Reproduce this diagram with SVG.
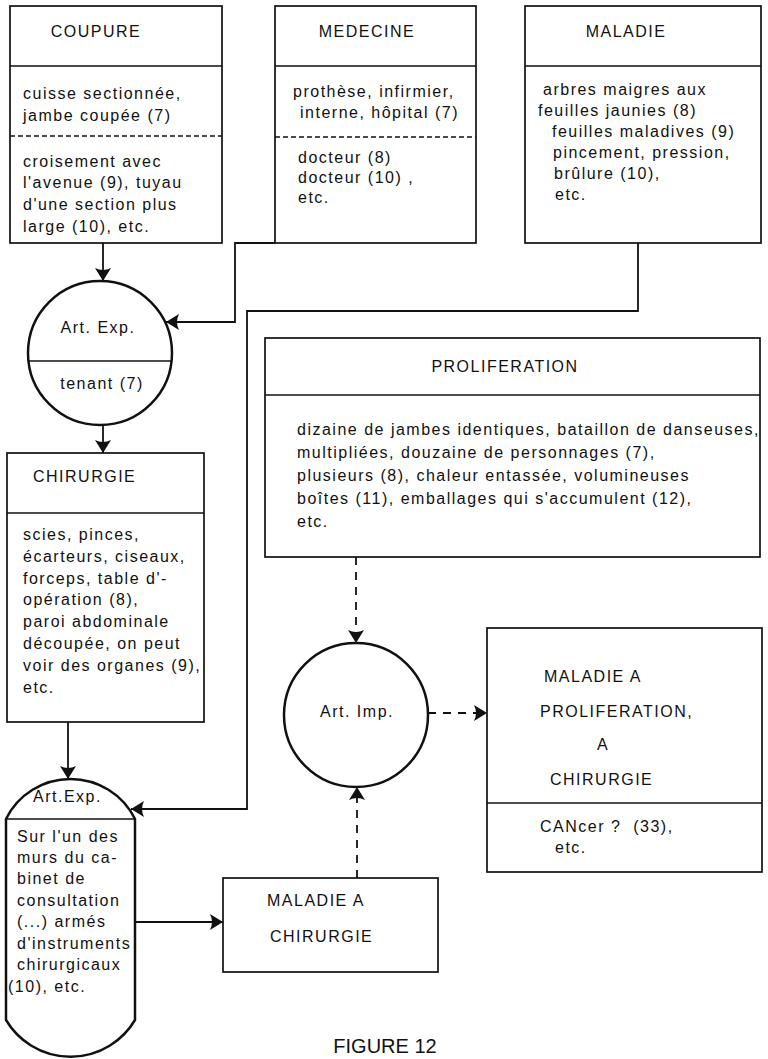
<svg xmlns="http://www.w3.org/2000/svg" width="768" height="1059" viewBox="0 0 768 1059">
  <style>
    .bx { fill: none; stroke: #111; stroke-width: 1.7; }
    .sep { stroke: #111; stroke-width: 1.6; }
    .dsep { stroke: #111; stroke-width: 1.4; stroke-dasharray: 5 3; }
    .rnd { fill: none; stroke: #111; stroke-width: 2.5; }
    .t { font-family: "Liberation Sans", Arial, sans-serif; font-size: 16px; letter-spacing: 1.5px; fill: #111; }
    .c { text-anchor: middle; }
    .cap { font-family: "Liberation Sans", Arial, sans-serif; font-size: 20px; fill: #111; text-anchor: middle; }
    .ln { fill: none; stroke: #111; stroke-width: 1.8; }
    .dl { stroke-dasharray: 8 7; }
  </style>
  <defs>
    <marker id="ah" markerUnits="userSpaceOnUse" markerWidth="16" markerHeight="18" refX="13" refY="9" orient="auto">
      <path d="M0,1 Q4,9 0,17 L13,9 Z" fill="#111"/>
    </marker>
  </defs>

  <rect width="768" height="1059" fill="#fff"/>

  <!-- connectors -->
  <g id="connectors">
    <path class="ln" d="M103,243 V281" marker-end="url(#ah)"/>
    <path class="ln" d="M275,243 H235 V322 H166" marker-end="url(#ah)"/>
    <path class="ln" d="M638,243 V311 H247 V809 H131" marker-end="url(#ah)"/>
    <path class="ln" d="M103,425 V453" marker-end="url(#ah)"/>
    <path class="ln" d="M68,722 V779" marker-end="url(#ah)"/>
    <path class="ln dl" d="M356,557 V643" marker-end="url(#ah)"/>
    <path class="ln dl" d="M428,713 H487" marker-end="url(#ah)"/>
    <path class="ln dl" d="M357,878 V787" marker-end="url(#ah)"/>
    <path class="ln" d="M135,922 H223" marker-end="url(#ah)"/>
  </g>

  <g id="coupure">
    <rect class="bx" x="10" y="6" width="212" height="237"/>
    <line class="sep" x1="10" y1="66" x2="222" y2="66"/>
    <line class="dsep" x1="10" y1="136" x2="222" y2="136"/>
    <text class="t c" x="96" y="37">COUPURE</text>
    <text class="t" x="23" y="99">cuisse sectionnée,</text>
    <text class="t" x="23" y="121">jambe coupée (7)</text>
    <text class="t" x="23" y="167">croisement avec</text>
    <text class="t" x="23" y="188">l'avenue (9), tuyau</text>
    <text class="t" x="23" y="210">d'une section plus</text>
    <text class="t" x="23" y="232">large (10), etc.</text>
  </g>

  <g id="medecine">
    <rect class="bx" x="275" y="6" width="201" height="237"/>
    <line class="sep" x1="275" y1="66" x2="476" y2="66"/>
    <line class="dsep" x1="275" y1="137" x2="476" y2="137"/>
    <text class="t c" x="367" y="37">MEDECINE</text>
    <text class="t" x="293" y="97">prothèse, infirmier,</text>
    <text class="t" x="300" y="118">interne, hôpital (7)</text>
    <text class="t" x="298" y="163">docteur (8)</text>
    <text class="t" x="298" y="183">docteur (10) ,</text>
    <text class="t" x="298" y="203">etc.</text>
  </g>

  <g id="maladie">
    <rect class="bx" x="525" y="6" width="236" height="237"/>
    <line class="sep" x1="525" y1="66" x2="761" y2="66"/>
    <text class="t c" x="626" y="37">MALADIE</text>
    <text class="t" x="543" y="95">arbres maigres aux</text>
    <text class="t" x="538" y="116">feuilles jaunies (8)</text>
    <text class="t" x="552" y="137">feuilles maladives (9)</text>
    <text class="t" x="553" y="158">pincement, pression,</text>
    <text class="t" x="554" y="179">brûlure (10),</text>
    <text class="t" x="555" y="200">etc.</text>
  </g>

  <g id="art-exp-1">
    <circle class="rnd" cx="100" cy="353" r="72"/>
    <line class="sep" x1="28.4" y1="361" x2="171.6" y2="361"/>
    <text class="t c" x="98" y="333">Art. Exp.</text>
    <text class="t c" x="102" y="389">tenant (7)</text>
  </g>

  <g id="proliferation">
    <rect class="bx" x="265" y="338" width="495" height="219"/>
    <line class="sep" x1="265" y1="395" x2="760" y2="395"/>
    <text class="t c" x="505" y="372">PROLIFERATION</text>
    <text class="t" x="297" y="435">dizaine de jambes identiques, bataillon de danseuses,</text>
    <text class="t" x="297" y="458">multipliées, douzaine de personnages (7),</text>
    <text class="t" x="297" y="481">plusieurs (8), chaleur entassée, volumineuses</text>
    <text class="t" x="297" y="504">boîtes (11), emballages qui s'accumulent (12),</text>
    <text class="t" x="297" y="527">etc.</text>
  </g>

  <g id="chirurgie">
    <rect class="bx" x="7" y="453" width="197" height="269"/>
    <line class="sep" x1="7" y1="513" x2="204" y2="513"/>
    <text class="t" x="33" y="482">CHIRURGIE</text>
    <text class="t" x="23" y="540">scies, pinces,</text>
    <text class="t" x="23" y="562">écarteurs, ciseaux,</text>
    <text class="t" x="23" y="584">forceps, table d'-</text>
    <text class="t" x="23" y="605">opération (8),</text>
    <text class="t" x="23" y="627">paroi abdominale</text>
    <text class="t" x="23" y="649">découpée, on peut</text>
    <text class="t" x="23" y="671">voir des organes (9),</text>
    <text class="t" x="23" y="693">etc.</text>
  </g>

  <g id="art-imp">
    <circle class="rnd" cx="356" cy="715" r="72"/>
    <text class="t c" x="357" y="717">Art. Imp.</text>
  </g>

  <g id="maladie-proliferation-chirurgie">
    <rect class="bx" x="487" y="628" width="275" height="244"/>
    <line class="sep" x1="487" y1="803" x2="762" y2="803"/>
    <text class="t" x="544" y="682">MALADIE  A</text>
    <text class="t" x="540" y="717">PROLIFERATION,</text>
    <text class="t" x="597" y="750">A</text>
    <text class="t" x="550" y="785">CHIRURGIE</text>
    <text class="t" x="540" y="832" xml:space="preserve">CANcer ?  (33),</text>
    <text class="t" x="555" y="853">etc.</text>
  </g>

  <g id="art-exp-2">
    <path class="rnd" d="M6,819 A72,72 0 0 1 135,819 V1020 A75,75 0 0 1 6,1020 Z"/>
    <line class="sep" x1="6" y1="819" x2="135" y2="819"/>
    <text class="t" x="33" y="802">Art.Exp.</text>
    <text class="t" x="17" y="842">Sur l'un des</text>
    <text class="t" x="17" y="863">murs du ca-</text>
    <text class="t" x="17" y="884">binet de</text>
    <text class="t" x="17" y="906">consultation</text>
    <text class="t" x="17" y="927">(...) armés</text>
    <text class="t" x="17" y="949">d'instruments</text>
    <text class="t" x="17" y="970">chirurgicaux</text>
    <text class="t" x="8" y="992">(10), etc.</text>
  </g>

  <g id="maladie-chirurgie">
    <rect class="bx" x="223" y="878" width="215" height="94"/>
    <text class="t" x="267" y="906">MALADIE  A</text>
    <text class="t" x="270" y="942">CHIRURGIE</text>
  </g>

  <text class="cap" x="385" y="1053">FIGURE 12</text>
</svg>
